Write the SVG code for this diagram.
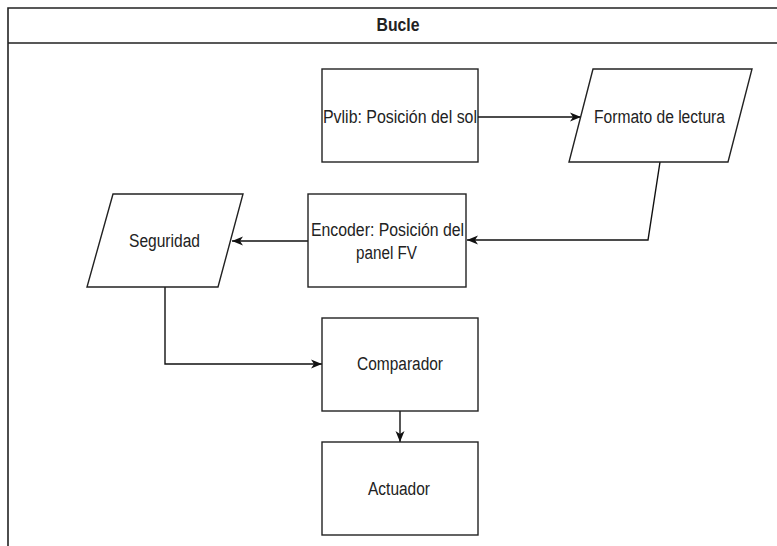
<svg xmlns="http://www.w3.org/2000/svg" width="777" height="546" viewBox="0 0 777 546">
<style>
.shape{fill:#fff;stroke:#222;stroke-width:1.4}
.frame{fill:none;stroke:#222;stroke-width:1.6}
.edge{fill:none;stroke:#111;stroke-width:1.4}
text{font-family:"Liberation Sans",Arial,sans-serif;font-size:18px;fill:#222;text-anchor:middle}
.title{font-weight:bold}
</style>
<defs>
<marker id="arr" markerUnits="userSpaceOnUse" markerWidth="12" markerHeight="10" refX="11" refY="5" orient="auto">
<path d="M0,0.5 L11,5 L0,9.5 L3,5 z" fill="#111"/>
</marker>
</defs>
<rect width="777" height="546" fill="#fff"/>
<g id="container">
<path class="frame" d="M8,546 L8,8 L777,8 M8,43 L777,43"/>
<text class="title" x="398" y="31" textLength="43" lengthAdjust="spacingAndGlyphs">Bucle</text>
</g>
<g id="connectors">
<path class="edge" d="M478,117 L581,117" marker-end="url(#arr)"/>
<path class="edge" d="M660,162 L648,240 L467,240" marker-end="url(#arr)"/>
<path class="edge" d="M308,241 L232,241" marker-end="url(#arr)"/>
<path class="edge" d="M165,287 L165,364 L322,364" marker-end="url(#arr)"/>
<path class="edge" d="M400,411 L400,442" marker-end="url(#arr)"/>
</g>
<g id="pvlib">
<rect class="shape" x="322" y="69" width="156" height="93"/>
<text x="400" y="123" textLength="154" lengthAdjust="spacingAndGlyphs">Pvlib: Posición del sol</text>
</g>
<g id="formato">
<polygon class="shape" points="593,69 752,69 728,162 569,162"/>
<text x="659.5" y="123" textLength="131" lengthAdjust="spacingAndGlyphs">Formato de lectura</text>
</g>
<g id="encoder">
<rect class="shape" x="308" y="194" width="158" height="93"/>
<text x="387.5" y="236" textLength="153" lengthAdjust="spacingAndGlyphs">Encoder: Posición del</text>
<text x="386.5" y="259" textLength="61" lengthAdjust="spacingAndGlyphs">panel FV</text>
</g>
<g id="seguridad">
<polygon class="shape" points="113,194 243,194 218,287 87,287"/>
<text x="164.5" y="247" textLength="71" lengthAdjust="spacingAndGlyphs">Seguridad</text>
</g>
<g id="comparador">
<rect class="shape" x="322" y="318" width="156" height="93"/>
<text x="400" y="370" textLength="86" lengthAdjust="spacingAndGlyphs">Comparador</text>
</g>
<g id="actuador">
<rect class="shape" x="322" y="442" width="156" height="93"/>
<text x="399" y="495" textLength="62" lengthAdjust="spacingAndGlyphs">Actuador</text>
</g>
</svg>
